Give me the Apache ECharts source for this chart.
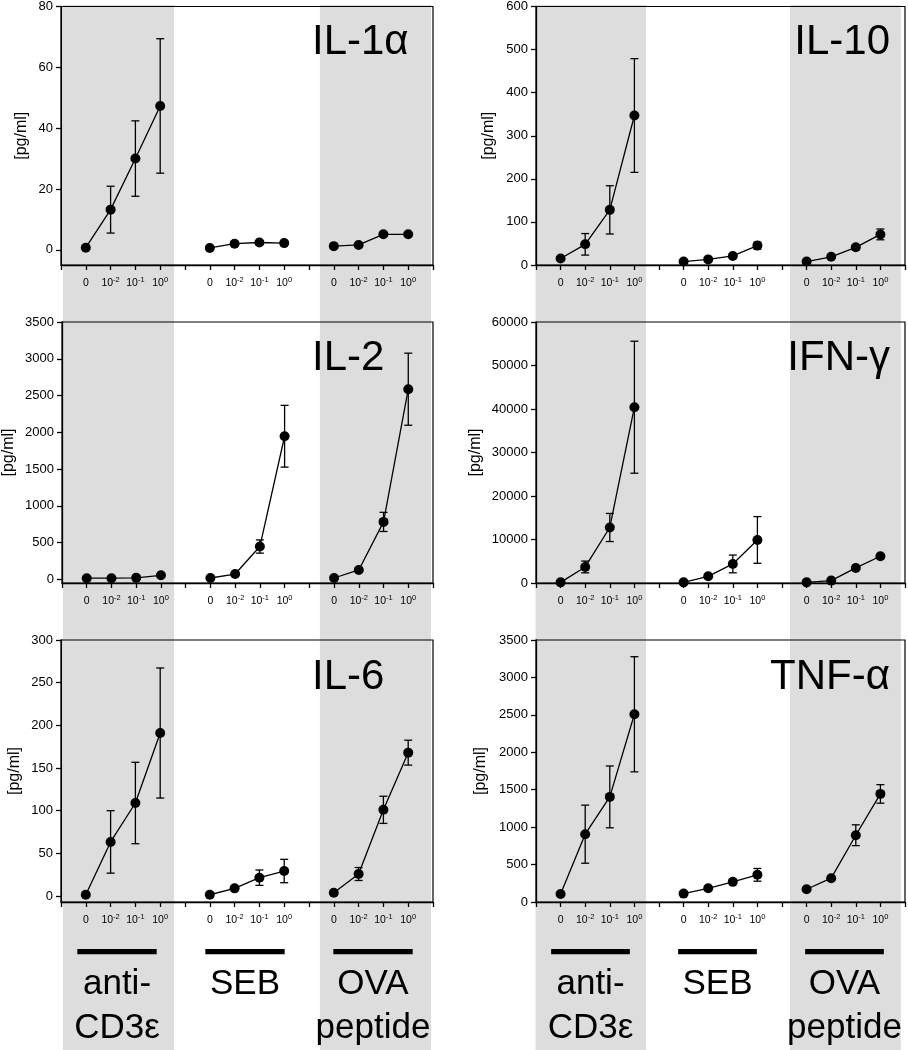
<!DOCTYPE html>
<html><head><meta charset="utf-8">
<script src="https://cdn.jsdelivr.net/npm/echarts@6/dist/echarts.min.js"></script>
<style>html,body{margin:0;padding:0;background:#fff}#c{width:908px;height:1050px}</style>
</head><body><div id="c"></div>
<script>
// ---------- data ----------
const doseBase = ['0', '10', '10', '10'];
const doseExp = ['', '-2', '-1', '0'];
const groupLine1 = ['anti-', 'SEB', 'OVA'];
const groupLine2 = ['CD3ε', '', 'peptide'];
const panelNames = ['IL-1α', 'IL-10', 'IL-2', 'IFN-γ', 'IL-6', 'TNF-α'];
const yAxisName = '[pg/ml]';

const il1aMean = [[0.7, 13.2, 30.0, 47.3], [0.6, 2.0, 2.4, 2.2], [1.2, 1.6, 5.1, 5.1]];
const il1aErr  = [[0, 7.7, 12.4, 22.1], [0, 0, 0, 0], [0, 0, 0, 0]];
const il1aTicks = [0, 20, 40, 60, 80];

const il10Mean = [[15, 48, 128, 347], [8, 13, 21, 45], [8, 19, 41, 71]];
const il10Err  = [[0, 25, 56, 132], [0, 0, 0, 8], [0, 0, 6, 12.5]];
const il10Ticks = [0, 100, 200, 300, 400, 500, 600];

const il2Mean = [[15, 15, 20, 55], [18, 72, 446, 1946], [18, 127, 781, 2586]];
const il2Err  = [[0, 0, 0, 0], [0, 0, 90, 420], [0, 0, 130, 490]];
const il2Ticks = [0, 500, 1000, 1500, 2000, 2500, 3000, 3500];

const ifngMean = [[150, 3690, 12760, 40410], [150, 1540, 4380, 9900], [150, 550, 3460, 6150]];
const ifngErr  = [[0, 1350, 3230, 15170], [0, 0, 2040, 5370], [0, 0, 0, 0]];
const ifngTicks = [0, 10000, 20000, 30000, 40000, 50000, 60000];

const il6Mean = [[1.5, 63.4, 109, 191], [1.5, 9, 21.5, 29.3], [3.9, 25.8, 101, 168]];
const il6Err  = [[0, 36.6, 47.7, 76.2], [0, 0, 9, 13.7], [0, 7.6, 15.9, 14.6]];
const il6Ticks = [0, 50, 100, 150, 200, 250, 300];

const tnfaMean = [[108, 906, 1404, 2508], [112, 183, 269, 363], [170, 318, 892, 1444]];
const tnfaErr  = [[0, 388, 413, 769], [0, 0, 0, 85], [0, 0, 139, 124]];
const tnfaTicks = [0, 500, 1000, 1500, 2000, 2500, 3000, 3500];

// ---------- layout ----------
const FONT = '"Liberation Sans", Arial, Helvetica, sans-serif';
const GRAY = '#dddddd';
const cols = [
  { left: 61, width: 372, bands: [[0.08, 4.56], [10.44, 14.92]], footLeft: 53, titleLeft: 312 },
  { left: 536, width: 371, bands: [[-0.02, 4.45], [10.27, 14.75]], footLeft: 527, titleRight: 18 }
];
const rows = [
  { top: 5, height: 260, titleTop: 21 },
  { top: 322, height: 261, titleTop: 337.5 },
  { top: 640, height: 262, titleTop: 656.5 }
];
const panels = [
  { mean: il1aMean, err: il1aErr, ticks: il1aTicks, yMin: -5, yMax: 80, nameGap: 31 },
  { mean: il10Mean, err: il10Err, ticks: il10Ticks, yMin: 0, yMax: 600, nameGap: 39 },
  { mean: il2Mean, err: il2Err, ticks: il2Ticks, yMin: -50, yMax: 3500, nameGap: 45 },
  { mean: ifngMean, err: ifngErr, ticks: ifngTicks, yMin: 0, yMax: 60000, nameGap: 52 },
  { mean: il6Mean, err: il6Err, ticks: il6Ticks, yMin: -7, yMax: 300, nameGap: 38 },
  { mean: tnfaMean, err: tnfaErr, ticks: tnfaTicks, yMin: 0, yMax: 3500, nameGap: 47 }
];
const FOOT_TOP = 935, FOOT_H = 115, BAR_Y = 16.7, LINE1_Y = 49.6, LINE2_Y = 92.9;

// ---------- build ----------
const grids = [], xAxes = [], yAxes = [], series = [], titles = [];
const lineW = 1.3;

cols.forEach(col => {
  grids.push({ left: col.left, width: col.width, top: 5, height: 1045, show: false });
  const gi = grids.length - 1;
  xAxes.push({ gridIndex: gi, type: 'value', min: 0, max: 15, show: false });
  yAxes.push({ gridIndex: gi, type: 'value', min: 0, max: 1, show: false });
  series.push({
    type: 'custom', xAxisIndex: xAxes.length - 1, yAxisIndex: yAxes.length - 1,
    z: -1, silent: true, data: col.bands, encode: { x: [0, 1] },
    renderItem: (params, api) => {
      const p0 = api.coord([api.value(0), 1]);
      const p1 = api.coord([api.value(1), 0]);
      return { type: 'rect', shape: { x: p0[0], y: p0[1], width: p1[0] - p0[0], height: p1[1] - p0[1] },
               style: { fill: GRAY } };
    }
  });

  // footer: bars + group labels
  grids.push({ left: col.footLeft, width: 384, top: FOOT_TOP, height: FOOT_H, show: false });
  const fi = grids.length - 1;
  xAxes.push({ gridIndex: fi, type: 'category', data: groupLine1, show: false });
  yAxes.push({ gridIndex: fi, type: 'value', min: 0, max: FOOT_H, inverse: true, show: false });
  const fx = xAxes.length - 1, fy = yAxes.length - 1;
  series.push({
    type: 'custom', xAxisIndex: fx, yAxisIndex: fy, silent: true, z: 3,
    data: groupLine1.map((g, i) => [i, BAR_Y]),
    renderItem: (params, api) => {
      const c = api.coord([api.value(0), api.value(1)]);
      const w = api.size([1, 0])[0] * 0.62;
      return { type: 'rect', shape: { x: c[0] - w / 2, y: c[1] - 2.6, width: w, height: 5.2 }, style: { fill: '#000' } };
    }
  });
  series.push({
    type: 'custom', xAxisIndex: fx, yAxisIndex: fy, silent: true, z: 3,
    data: groupLine1.map((g, i) => [i, LINE1_Y]),
    renderItem: (params, api) => {
      const i = api.value(0);
      const c1 = api.coord([i, LINE1_Y]);
      const c2 = api.coord([i, LINE2_Y]);
      return { type: 'group', children: [
        { type: 'text', x: c1[0], y: c1[1], style: { text: groupLine1[i], fill: '#000', fontSize: 35, fontFamily: FONT, align: 'center', verticalAlign: 'middle' } },
        { type: 'text', x: c2[0], y: c2[1], style: { text: groupLine2[i], fill: '#000', fontSize: 35, fontFamily: FONT, align: 'center', verticalAlign: 'middle' } }
      ] };
    }
  });
});

panels.forEach((p, idx) => {
  const col = cols[idx % 2], row = rows[Math.floor(idx / 2)];
  grids.push({ left: col.left, width: col.width, top: row.top, height: row.height,
               show: true, borderColor: '#000', borderWidth: 1.2, backgroundColor: 'transparent' });
  const gi = grids.length - 1;
  xAxes.push({
    gridIndex: gi, type: 'value', min: 0, max: 15, interval: 1, position: 'bottom',
    axisLine: { onZero: false, lineStyle: { color: '#000', width: lineW } },
    axisTick: { length: 5, lineStyle: { color: '#000', width: lineW } },
    splitLine: { show: false },
    axisLabel: {
      margin: 11, color: '#000', fontFamily: FONT,
      formatter: v => {
        const k = Math.round(v) % 5;
        if (k === 0) return '';
        const b = doseBase[k - 1], e = doseExp[k - 1];
        return e ? '{b|' + b + '}{s|' + e + '}' : '{b|' + b + '}';
      },
      rich: {
        b: { fontSize: 10.5, fontFamily: FONT, color: '#000', lineHeight: 14 },
        s: { fontSize: 7.5, fontFamily: FONT, color: '#000', lineHeight: 8, verticalAlign: 'top' }
      }
    }
  });
  yAxes.push({
    gridIndex: gi, type: 'value', min: p.yMin, max: p.yMax,
    name: yAxisName, nameLocation: 'middle', nameGap: p.nameGap,
    nameTextStyle: { fontSize: 16, color: '#000', fontFamily: FONT },
    axisLine: { show: true, onZero: false, lineStyle: { color: '#000', width: lineW } },
    axisTick: { show: true, length: 5, customValues: p.ticks, lineStyle: { color: '#000', width: lineW } },
    axisLabel: { customValues: p.ticks, fontSize: 13, color: '#000', fontFamily: FONT, margin: 8,
                 formatter: v => String(Math.round(v)) },
    splitLine: { show: false }
  });
  const xi = xAxes.length - 1, yi = yAxes.length - 1;
  p.mean.forEach((gm, g) => {
    series.push({
      type: 'line', xAxisIndex: xi, yAxisIndex: yi, z: 5,
      data: gm.map((m, k) => [g * 5 + k + 1, m]),
      symbol: 'circle', symbolSize: 10, showSymbol: true,
      itemStyle: { color: '#000' }, lineStyle: { color: '#000', width: lineW },
      emphasis: { disabled: true }
    });
    series.push({
      type: 'custom', xAxisIndex: xi, yAxisIndex: yi, z: 4, silent: true,
      data: gm.map((m, k) => [g * 5 + k + 1, m, p.err[g][k]]),
      encode: { x: 0, y: 1 },
      renderItem: (params, api) => {
        const x = api.value(0), m = api.value(1), e = api.value(2);
        if (!e) return null;
        const t = api.coord([x, m + e]), b = api.coord([x, m - e]);
        const c = 4, st = { stroke: '#000', lineWidth: lineW };
        return { type: 'group', children: [
          { type: 'line', shape: { x1: t[0], y1: t[1], x2: b[0], y2: b[1] }, style: st },
          { type: 'line', shape: { x1: t[0] - c, y1: t[1], x2: t[0] + c, y2: t[1] }, style: st },
          { type: 'line', shape: { x1: b[0] - c, y1: b[1], x2: b[0] + c, y2: b[1] }, style: st }
        ] };
      }
    });
  });
  const t = { text: panelNames[idx], top: row.titleTop, padding: 0,
              textStyle: { fontSize: 42, fontWeight: 'normal', color: '#000', fontFamily: FONT } };
  if (idx % 2 === 0) t.left = col.titleLeft; else t.right = col.titleRight;
  titles.push(t);
});

const chart = echarts.init(document.getElementById('c'));
chart.setOption({
  backgroundColor: '#fff', animation: false,
  title: titles, grid: grids, xAxis: xAxes, yAxis: yAxes, series: series
});
</script></body></html>
